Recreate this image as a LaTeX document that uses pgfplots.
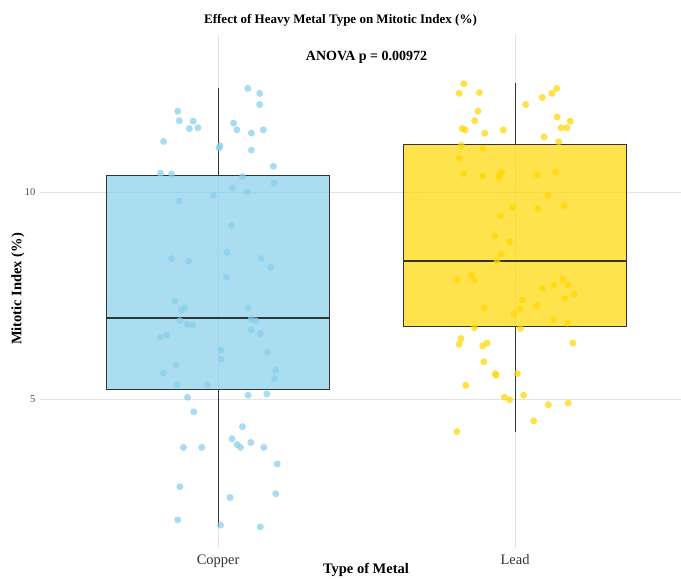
\documentclass[border=0pt]{standalone}
\usepackage{pgfplots}
\pgfplotsset{compat=1.18}
\usepgfplotslibrary{statistics}
\usepackage{fontspec}
\setmainfont{Liberation Serif}

\definecolor{skyblue}{HTML}{87CEEB}
\definecolor{goldfill}{HTML}{FFD700}
\definecolor{gridgray}{HTML}{E3E3E3}
\definecolor{boxline}{HTML}{333333}

% Jittered observations: x = category position (1 = Copper, 2 = Lead) plus jitter
\pgfplotstableread{
x y
1.100 12.50
1.140 12.38
1.140 12.11
0.864 11.95
0.869 11.72
0.916 11.71
0.903 11.53
0.932 11.55
1.052 11.66
1.063 11.50
1.112 11.42
1.152 11.50
0.816 11.22
1.006 11.11
1.003 11.06
1.112 11.01
1.186 10.62
0.806 10.45
0.843 10.43
1.082 10.37
1.188 10.21
1.048 10.10
1.098 10.00
0.984 9.92
0.869 9.78
1.045 9.19
1.030 8.54
0.843 8.39
0.901 8.33
1.145 8.39
1.177 8.18
1.028 7.94
0.855 7.36
0.887 7.20
0.875 7.14
1.101 7.20
1.111 6.93
1.127 6.89
0.871 6.89
0.895 6.80
0.915 6.79
1.111 6.67
1.142 6.58
0.804 6.49
0.826 6.54
1.009 6.18
1.010 5.96
1.166 6.13
0.858 5.82
0.816 5.63
1.194 5.69
1.190 5.49
0.862 5.34
0.964 5.34
0.897 5.04
1.101 5.09
1.164 5.12
0.918 4.69
1.082 4.33
1.047 4.04
1.064 3.90
1.075 3.83
1.110 3.95
1.154 3.83
0.883 3.83
0.945 3.83
1.199 3.43
0.871 2.88
1.040 2.62
1.194 2.71
0.864 2.08
1.008 1.95
1.142 1.91
}\copperdata

\pgfplotstableread{
x y
1.827 12.61
1.812 12.38
1.880 12.40
2.140 12.50
2.124 12.38
2.092 12.28
2.036 12.11
1.875 11.95
1.864 11.72
2.142 11.81
2.186 11.71
2.155 11.55
2.175 11.55
1.822 11.53
1.832 11.50
1.898 11.42
1.960 11.50
2.098 11.33
2.147 11.21
1.819 11.12
1.892 11.05
1.812 10.82
1.827 10.44
1.890 10.38
1.955 10.48
1.948 10.41
1.945 10.36
2.075 10.41
2.136 10.48
2.111 9.91
1.991 9.62
2.077 9.60
2.166 9.67
1.952 9.43
1.932 8.94
1.982 8.79
1.954 8.50
1.939 8.32
1.806 7.89
1.853 7.99
1.864 7.87
2.093 7.67
2.130 7.75
2.161 7.89
2.179 7.75
2.198 7.54
2.167 7.42
2.024 7.39
2.017 7.18
2.073 7.25
1.897 7.20
1.996 7.05
2.130 6.91
2.177 6.83
1.863 6.72
2.018 6.70
1.818 6.46
1.812 6.32
1.891 6.28
1.906 6.35
2.195 6.35
1.895 5.90
1.934 5.61
1.936 5.57
2.008 5.61
1.834 5.33
1.964 5.04
1.982 4.98
2.029 5.09
2.112 4.86
2.179 4.90
2.063 4.47
1.804 4.21
}\leaddata

\begin{document}
\begin{tikzpicture}[x=1pt,y=1pt]
\useasboundingbox (0,0) rectangle (681,579);
\begin{axis}[
  at={(40pt,31pt)}, anchor=south west,
  scale only axis, width=641pt, height=513pt,
  xmin=0.4, xmax=2.559, ymin=1.40, ymax=13.79,
  axis line style={draw=none},
  major tick length=0pt,
  xtick={1,2}, xticklabels={Copper,Lead},
  ytick={5,10},
  grid=major,
  major grid style={gridgray, line width=0.6pt},
  xticklabel style={font=\fontsize{14.5}{16}\selectfont, text=boxline, yshift=-3pt},
  yticklabel style={font=\fontsize{10.5}{12}\selectfont, text=black!70, xshift=-1pt},
  /pgf/number format/assume math mode=true,
  boxplot/draw direction=y,
  boxplot/every median/.style={line width=1.6pt},
]
  % boxes
  \addplot+[boxplot prepared={draw position=1, lower whisker=1.91, lower quartile=5.24,
      median=6.96, upper quartile=10.39, upper whisker=12.50,
      box extend=0.75, whisker extend=0.001},
    mark=none, solid, draw=boxline, line width=1pt, fill=skyblue, fill opacity=0.7]
    coordinates {};
  \addplot+[boxplot prepared={draw position=2, lower whisker=4.21, lower quartile=6.74,
      median=8.33, upper quartile=11.14, upper whisker=12.61,
      box extend=0.75, whisker extend=0.001},
    mark=none, solid, draw=boxline, line width=1pt, fill=goldfill, fill opacity=0.7]
    coordinates {};
  % jittered points
  \addplot[only marks, color=skyblue, mark=*, mark size=3.5pt,
    mark options={solid, fill=skyblue, draw opacity=0, fill opacity=0.72}]
    table[x=x, y=y] {\copperdata};
  \addplot[only marks, color=goldfill, mark=*, mark size=3.5pt,
    mark options={solid, fill=goldfill, draw opacity=0, fill opacity=0.72}]
    table[x=x, y=y] {\leaddata};
  \node[font=\bfseries\fontsize{14}{16}\selectfont] at (axis cs:1.5,13.24) {ANOVA p = 0.00972};
\end{axis}
\node[font=\bfseries\fontsize{13}{15}\selectfont] at (340.5,559) {Effect of Heavy Metal Type on Mitotic Index (\%)};
\node[font=\bfseries\fontsize{14.5}{16}\selectfont] at (366,9) {Type of Metal};
\node[font=\bfseries\fontsize{14.5}{16}\selectfont, rotate=90] at (18,290) {Mitotic Index (\%)};
\end{tikzpicture}
\end{document}
